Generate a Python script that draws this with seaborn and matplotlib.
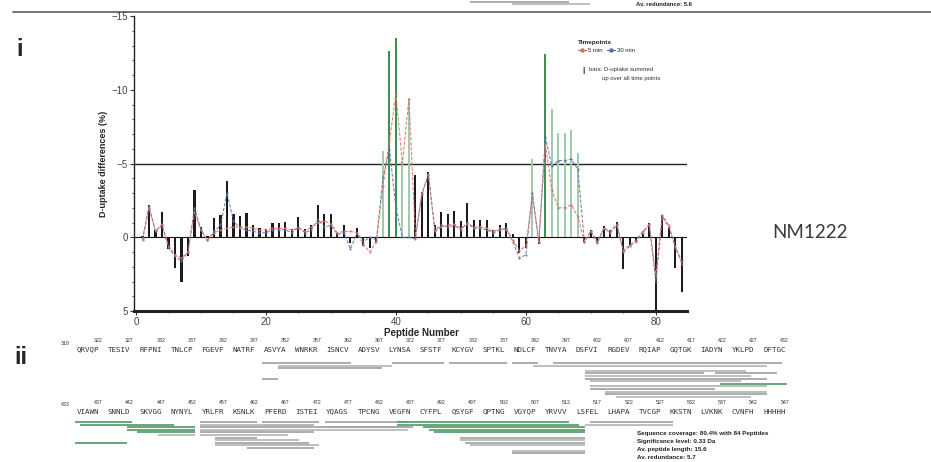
import numpy as np
import pandas as pd
import matplotlib
matplotlib.use("Agg")
import matplotlib.pyplot as plt
import seaborn as sns
from matplotlib.lines import Line2D

# ---------------- data ----------------
peptides = list(range(1, 85))
bar_values = [-0.1, -2.2, -0.5, -1.7, 0.8, 2.1, 3.0, 1.3, -3.2, -0.7,
              -0.1, -1.3, -1.5, -3.8, -1.6, -1.45, -1.65, -0.85, -0.6, -0.55,
              -1.0, -1.0, -1.05, -0.55, -1.4, -0.55, -0.8, -2.2, -1.55, -1.55,
              -0.3, -0.8, 0.4, -0.65, 0.6, 0.75, 0.3, -5.85, -12.6, -13.5,
              -5.2, -9.3, -4.2, -3.1, -4.4, -0.85, -1.7, -1.6, -1.8, -1.1,
              -2.3, -1.2, -1.2, -1.2, -0.5, -0.8, -1.0, -0.2, 1.1, 0.75,
              -5.3, 0.45, -12.4, -8.7, -7.1, -7.1, -7.3, -5.7, 0.3, -0.5,
              0.4, -0.75, -0.5, -1.05, 2.15, 0.55, 0.3, -0.2, -1.0, 5.0,
              -1.5, -0.6, 2.1, 3.7]
red_5min = [0.2, -2.0, -0.4, -0.9, 0.6, 1.2, 1.4, 1.0, -1.7, -0.5,
            0.2, -0.3, -0.5, -0.6, -0.7, -0.7, -0.7, -0.6, -0.5, -0.5,
            -0.6, -0.6, -0.6, -0.5, -0.6, -0.4, -0.7, -1.0, -1.1, -0.9,
            -0.3, -0.4, -0.4, -0.3, 0.5, 1.0, 0.3, -3.5, -6.5, -9.7,
            -5.0, -9.4, -0.1, -3.0, -4.3, -0.4, -0.7, -0.8, -0.9, -0.6,
            -0.9, -0.7, -0.7, -0.6, -0.4, -0.6, -0.5, 0.2, 0.9, 0.6,
            -2.8, 0.3, -6.3, -3.2, -2.0, -2.0, -2.2, -1.4, 0.3, -0.4,
            0.3, -0.6, -0.3, -0.8, 0.9, 0.5, 0.3, -0.3, -0.9, 2.6,
            -1.5, -0.8, 0.6, 1.8]
blue_30min = [0.1, -2.1, -0.4, -0.8, 0.7, 1.3, 1.6, 1.0, -2.0, -0.5,
              0.2, -0.4, -0.8, -3.0, -1.1, -0.6, -0.5, -0.4, -0.3, -0.3,
              -0.5, -0.5, -0.5, -0.3, -0.7, -0.3, -0.5, -1.2, -0.7, -0.8,
              -0.2, -0.3, 0.8, -0.3, 0.3, 0.0, 0.2, -4.0, -6.0, -2.0,
              0.0, 0.0, 0.1, -2.9, -4.2, -0.5, -0.8, -0.7, -0.8, -0.5,
              -1.0, -0.6, -0.6, -0.5, -0.3, -0.5, -0.6, 0.3, 1.4, 1.2,
              -3.0, 0.3, -6.8, -4.8, -5.2, -5.2, -5.3, -4.6, 0.3, -0.4,
              0.4, -0.6, -0.4, -0.9, 1.0, 0.6, 0.2, -0.4, -0.8, 3.0,
              -1.4, -0.7, 0.7, 1.6]
x_ticks = [0, 20, 40, 60, 80]
y_ticks = [-15, -10, -5, 0, 5]
threshold = -5

seq_row1_start = 318
seq_row1 = "QRVQP TESIV RFPNI TNLCP FGEVF NATRF ASVYA WNRKR ISNCV ADYSV LYNSA SFSTF KCYGV SPTKL NDLCF TNVYA DSFVI RGDEV RQIAP GQTGK IADYN YKLPD DFTGC"
seq_row2_start = 433
seq_row2 = "VIAWN SNNLD SKVGG NYNYL YRLFR KSNLK PFERD ISTEI YQAGS TPCNG VEGFN CYFPL QSYGF QPTNG VGYQP YRVVV LSFEL LHAPA TVCGP KKSTN LVKNK CVNFH HHHHH"

# peptide coverage bars (row 0 = remnant of the panel above, rows 1/2 = panel ii)
cov_row = [0, 0,
           1, 1, 1, 1, 1, 1, 1, 1, 1, 1, 1, 1, 1, 1, 1, 1, 1, 1, 1, 1, 1,
           2, 2, 2, 2, 2, 2, 2, 2, 2, 2, 2, 2, 2, 2, 2, 2, 2, 2, 2, 2, 2,
           2, 2, 2, 2, 2, 2, 2, 2, 2, 2, 2, 2, 2, 2, 2, 2, 2]
cov_lane = [0, 1,
            0, 0, 0, 0, 0, 1, 1, 2, 3, 4, 4, 5, 6, 7, 8, 9, 10, 11, 12, 13, 6,
            0, 0, 0, 0, 0, 0, 1, 1, 1, 1, 2, 2, 2, 2, 3, 3, 3, 4, 4, 4, 5,
            5, 6, 7, 7, 8, 8, 8, 9, 9, 10, 11, 12, 2, 3, 6, 9, 1]
cov_start = [497, 503,
             348, 369, 378, 388, 395, 351, 392, 351, 400, 400, 421, 400, 400, 401, 422, 401, 401, 403, 403, 405, 348,
             433, 453, 463, 473, 485, 516, 434, 453, 485, 515, 442, 453, 473, 489, 442, 453, 490, 443, 453, 491, 447,
             453, 495, 456, 495, 433, 456, 496, 456, 497, 461, 503, 503, 472, 472, 456, 463, 463]
cov_end = [512, 515,
           362, 377, 387, 392, 431, 368, 428, 367, 425, 418, 430, 426, 428, 424, 432, 428, 420, 428, 428, 426, 350,
           442, 462, 472, 486, 512, 528, 448, 471, 513, 528, 452, 471, 486, 514, 452, 471, 514, 452, 471, 514, 452,
           467, 514, 468, 514, 441, 470, 514, 472, 514, 471, 514, 514, 487, 486, 462, 470, 471]
cov_green = [0, 0,
             0, 0, 0, 0, 0, 0, 0, 0, 0, 0, 0, 0, 0, 0, 1, 0, 0, 0, 0, 0, 0,
             1, 0, 0, 0, 1, 0, 1, 0, 1, 0, 1, 0, 0, 1, 1, 0, 1, 1, 0, 1, 0,
             0, 0, 0, 0, 1, 0, 0, 0, 0, 0, 0, 0, 0, 0, 0, 0, 0]
coverage_stats = ["Sequence coverage: 80.4% with 84 Peptides",
                  "Significance level: 0.33 Da",
                  "Av. peptide length: 15.6",
                  "Av. redundance: 5.7"]
prev_stat = "Av. redundance: 5.6"
protein_label = "NM1222"

# ---------------- style ----------------
sns.set_style("ticks")
plt.rcParams["font.family"] = ["Liberation Sans", "DejaVu Sans"]

W, H = 931, 462
fig = plt.figure(figsize=(W / 100, H / 100), dpi=100)

def fx(px):
    return px / W

def fy(py):
    return 1 - py / H

# overlay axes for panel ii (x in sequence character positions, y in pixel rows)
CHW, X0 = 5.2, 75
ov = fig.add_axes([0, 0, 1, 1])
ov.set_xlim(-X0 / CHW, (W - X0) / CHW)
ov.set_ylim(H, 0)
ov.axis("off")
ov.patch.set_alpha(0)

def respos(r, start):
    k = r - start
    return k + k // 5

row_starts = {0: seq_row2_start, 1: seq_row1_start, 2: seq_row2_start}
lane_base = {0: 1.5, 1: 363, 2: 422}
lane_step = 2.6
for row, lane, s, e, g in zip(cov_row, cov_lane, cov_start, cov_end, cov_green):
    st = row_starts[row]
    y = lane_base[row] + lane * lane_step
    col = "#5c9f6f" if g else ("#b9b9b9" if lane % 2 else "#a6a6a6")
    ov.hlines(y, respos(s, st), respos(e, st) + 1, colors=col, lw=1.3)

# sequence rows
for seq, start, ynum, yseq in [(seq_row1, seq_row1_start, 341.0, 349.5),
                               (seq_row2, seq_row2_start, 402.5, 411.5)]:
    groups = seq.split()
    ov.text(-1.9, ynum + 2.5, str(start), ha="center", va="center",
            fontsize=3.8, color="#333")
    for gi, grp in enumerate(groups):
        ov.text(gi * 6 + 2.5, yseq, grp, ha="center", va="center",
                family="DejaVu Sans Mono", fontsize=5.4, color="#333")
        ov.text(gi * 6 + 4.5, ynum, str(start + gi * 5 + 4), ha="center",
                va="center", fontsize=3.8, color="#333")

for i, t in enumerate(coverage_stats):
    fig.text(fx(637), fy(434 + i * 7.7), t, fontsize=4.5, weight="bold",
             va="center", ha="left", color="#222")
fig.text(fx(636), fy(4.5), prev_stat, fontsize=4.3, weight="bold",
         va="center", ha="left", color="#222")
ov.axhline(11.7, xmin=13 / W, xmax=1, color="#6a6a6a", lw=1.3)

fig.text(fx(20), fy(50), "i", fontsize=17, weight="bold", ha="center", va="center")
fig.text(fx(21), fy(357), "ii", fontsize=17, weight="bold", ha="center", va="center")
fig.text(fx(810), fy(232), protein_label, fontsize=13.5, ha="center",
         va="center", color="#3a3a3a", family=["Lato", "DejaVu Sans"])

# ---------------- main chart ----------------
ax = fig.add_axes([fx(134), fy(311), fx(687) - fx(134), fy(16) - fy(311)])
ax.patch.set_alpha(0)

df = pd.DataFrame({"Peptide": peptides, "D": bar_values})
df["cls"] = np.where(df["D"] <= -10, "strong",
                     np.where(df["D"] <= threshold, "sig", "ns"))
pal = {"strong": "#2f9e4e", "sig": "#9ad3a6", "ns": "#1c1c1c"}
sns.barplot(data=df, x="Peptide", y="D", hue="cls", palette=pal,
            native_scale=True, width=0.32, dodge=False, legend=False,
            errorbar=None, linewidth=0, ax=ax, zorder=2)

red_c, blue_c = "#d9705e", "#5c6fae"
sns.lineplot(x=peptides, y=red_5min, color=red_c, lw=0.8,
             linestyle=(0, (3, 1.5)), marker="o", markersize=1.6,
             markeredgewidth=0, alpha=0.85, ax=ax, zorder=4)
sns.lineplot(x=peptides, y=blue_30min, color=blue_c, lw=0.8,
             linestyle=(0, (3, 1.5)), marker="o", markersize=1.6,
             markeredgewidth=0, alpha=0.85, ax=ax, zorder=3)

ax.axhline(0, color="#111", lw=0.8, zorder=1.5)
ax.axhline(threshold, color="#222", lw=1.0, zorder=1.5)

ax.set_xlim(-0.31, 84.8)
ax.set_ylim(5, -15)
ax.set_xticks(x_ticks)
ax.set_xticks(list(range(0, 85, 5)), minor=True)
ax.set_yticks(y_ticks)
ax.set_yticks(list(range(-15, 6)), minor=True)
ax.tick_params(which="major", length=3, width=0.8, labelsize=7,
               labelcolor="#444", color="#333", pad=1.5)
ax.tick_params(which="minor", length=1.6, width=0.6, color="#333")
for s in ["top", "right"]:
    ax.spines[s].set_visible(False)
ax.spines["left"].set_linewidth(1.0)
ax.spines["bottom"].set_linewidth(2.2)
ax.spines["left"].set_color("#222")
ax.spines["bottom"].set_color("#222")

ax.set_xlabel("Peptide Number", fontsize=7, weight="bold", labelpad=0)
ax.xaxis.set_label_coords(0.52, -0.058)
ax.set_ylabel("D-uptake differences (%)", fontsize=6.5, weight="bold", labelpad=2)

handles = [Line2D([], [], color=red_c, lw=0.9, marker="o", ms=2.2),
           Line2D([], [], color=blue_c, lw=0.9, marker="o", ms=2.2)]
leg = ax.legend(handles, ["5 min", "30 min"], loc="upper left",
                bbox_to_anchor=(fx(578), fy(40)), bbox_transform=fig.transFigure,
                ncol=2, frameon=False, fontsize=4.3, title="Timepoints",
                title_fontproperties={"weight": "bold", "size": 4.6},
                alignment="left", handlelength=1.3, handletextpad=0.3,
                columnspacing=0.8, borderpad=0, borderaxespad=0)
fig.text(fx(584), fy(70), "|", fontsize=6, weight="bold", ha="center",
         va="center", color="#333")
fig.text(fx(589), fy(70), "bars: D-uptake summed", fontsize=4.3,
         ha="left", va="center", color="#333")
fig.text(fx(602), fy(78.5), "up over all time points", fontsize=4.3,
         ha="left", va="center", color="#333")

fig.savefig("out.png", dpi=100)
